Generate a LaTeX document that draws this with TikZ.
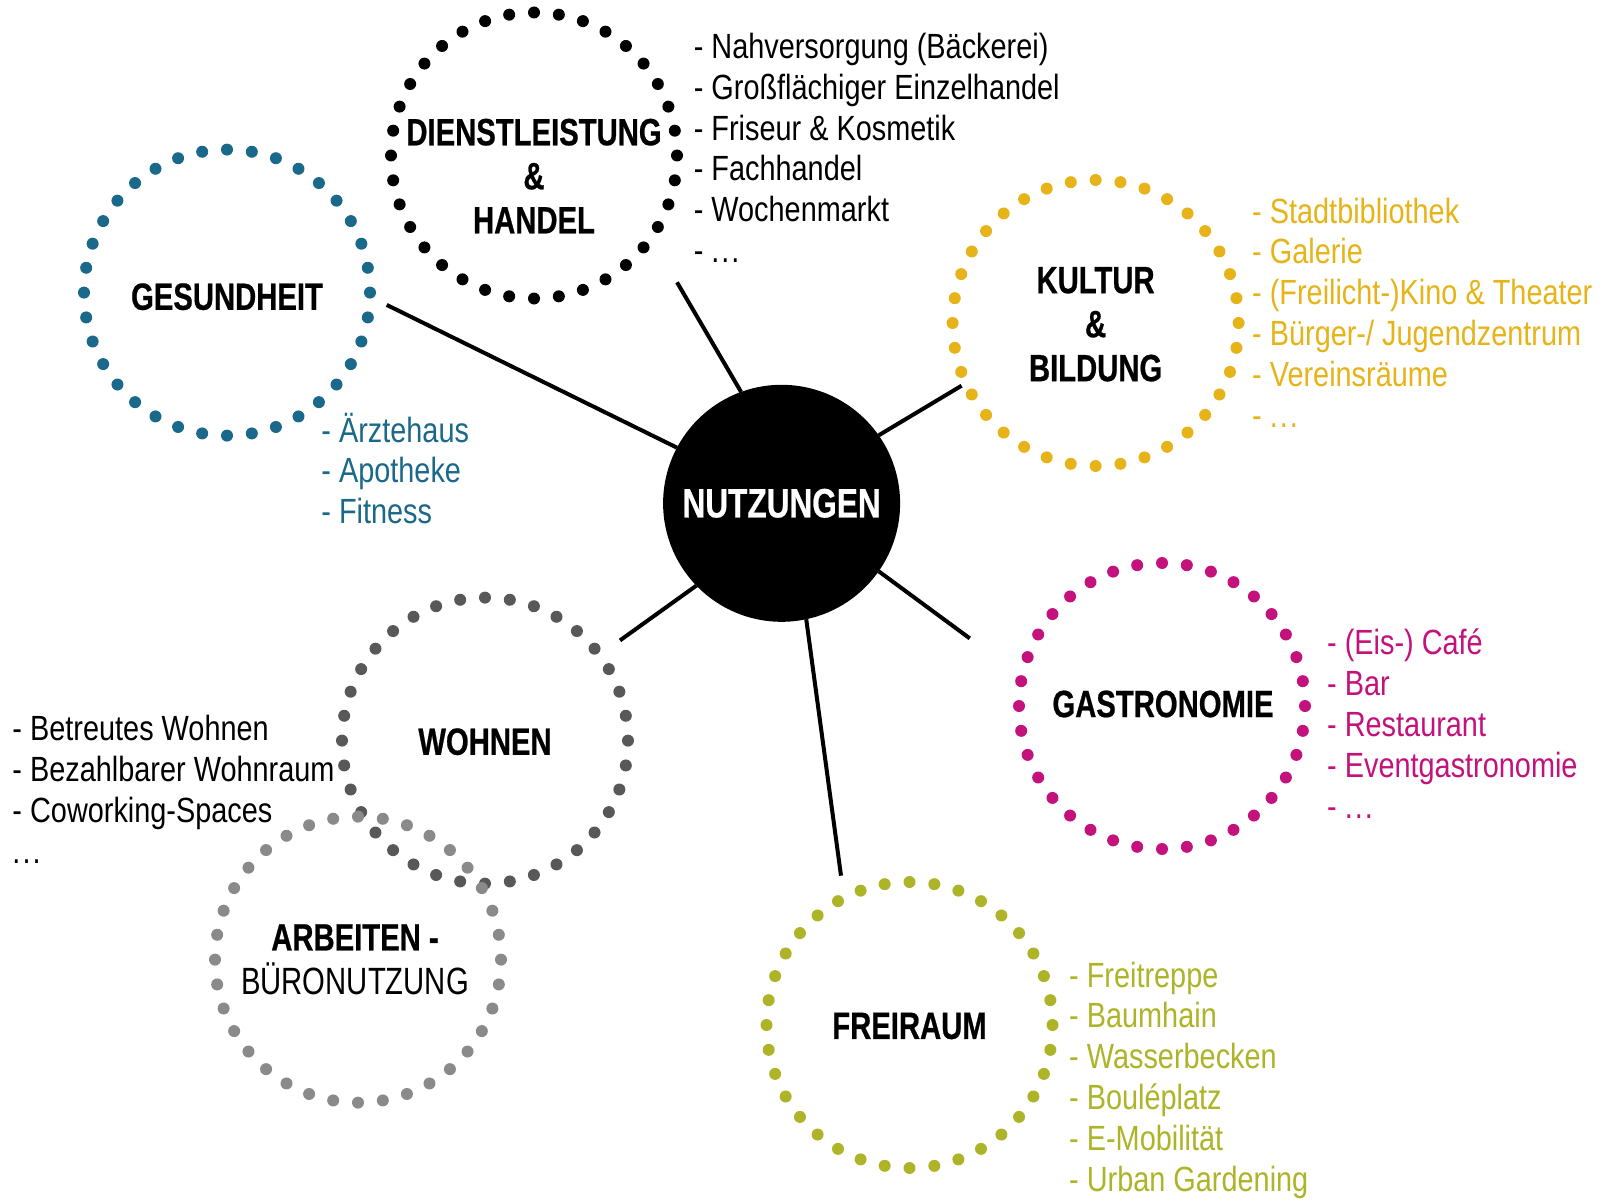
\documentclass[tikz,border=0pt]{standalone}
\usepackage{fontspec}
\newfontfamily\listfont{Liberation Sans}[FakeStretch=0.825]
\newfontfamily\titlefont{Liberation Sans}[FakeStretch=0.77, BoldFeatures={FakeBold=0.6}]
\definecolor{cteal}{RGB}{26,104,138}
\definecolor{cgold}{RGB}{230,180,25}
\definecolor{cmag}{RGB}{196,18,124}
\definecolor{colive}{RGB}{174,180,40}
\definecolor{cdgray}{RGB}{88,88,88}
\definecolor{clgray}{RGB}{138,138,138}
\newcommand\ringdots[2]{\foreach \a in {0,10,...,350} \fill[#2] (#1.\a) circle (6pt);}
\newcommand\dd{.\kern2pt.\kern2pt.}
\begin{document}
\begin{tikzpicture}[x=1pt,y=-1pt,
  dotring/.style={circle, minimum size=286pt, inner sep=0pt, outer sep=0pt},
  titletext/.style={font=\titlefont\bfseries\fontsize{38}{44}\selectfont, align=center, inner sep=0pt},
  item/.style={font=\listfont\fontsize{35}{41}\selectfont, anchor=base west, inner sep=0pt},
  conn/.style={line width=4pt}]
\useasboundingbox (0,0) rectangle (1604,1204);
\fill[white] (0,0) rectangle (1604,1204);

% central node
\node[circle, fill=black, minimum size=237pt, inner sep=0pt, outer sep=0pt,
      font=\titlefont\bfseries\fontsize{41}{44}\selectfont, text=white] (c) at (781.6,503.3) {NUTZUNGEN};

% dotted rings
\node[dotring] (D) at (534,155.5) {};
\node[dotring] (G) at (227,292.6) {};
\node[dotring] (K) at (1095.6,323) {};
\node[dotring] (Ga) at (1162,706) {};
\node[dotring] (F) at (909.5,1025) {};
\node[dotring] (W) at (485,740.6) {};
\node[dotring] (A) at (358,959.6) {};
\ringdots{D}{black}
\ringdots{G}{cteal}
\ringdots{K}{cgold}
\ringdots{Ga}{cmag}
\ringdots{F}{colive}
\ringdots{W}{cdgray}
\ringdots{A}{clgray}

% titles
\node[titletext] (Dt) at (534,176) {DIENSTLEISTUNG\\\&\\HANDEL};
\node[titletext] (Gt) at (227,296.7) {GESUNDHEIT};
\node[titletext] (Kt) at (1095.6,324.3) {KULTUR\\\&\\BILDUNG};
\node[titletext] (Gat) at (1163,704) {GASTRONOMIE};
\node[titletext] (Ft) at (909.5,1026) {FREIRAUM};
\node[titletext] (Wt) at (485,741.7) {WOHNEN};
\node[titletext] (At) at (355,959.6) {ARBEITEN -\\\mdseries BÜRONUTZUNG};

% connector ends
\coordinate (eD) at (677,282.3);
\coordinate (eG) at (386.7,304.9);
\coordinate (eK) at (961.6,385.7);
\coordinate (eGa) at (969.8,638.4);
\coordinate (eF) at (841,875.7);
\coordinate (eW) at (620,640.4);
\draw[conn] (c.110.9) -- (eD);
\draw[conn] (c.152.6) -- (eG);
\draw[conn] (c.35.5) -- (eK);
\draw[conn] (c.-35.9) -- (eGa);
\draw[conn] (c.-78.7) -- (eF);
\draw[conn] (c.-136.1) -- (eW);

% lists
\foreach \t [count=\i] in {{- Nahversorgung (Bäckerei)},{- Großflächiger Einzelhandel},{- Friseur \& Kosmetik},{- Fachhandel},{- Wochenmarkt},{- \dd}}
  \node[item, text=black] (dl\i) at ({693.6},{58.3+(\i-1)*40.9}) {\t};
\foreach \t [count=\i] in {{- Ärztehaus},{- Apotheke},{- Fitness}}
  \node[item, text=cteal] (gl\i) at ({321.2},{442+(\i-1)*40.9}) {\t};
\foreach \t [count=\i] in {{- Stadtbibliothek},{- Galerie},{- (Freilicht-)Kino \& Theater},{- Bürger-/ Jugendzentrum},{- Vereinsräume},{- \dd}}
  \node[item, text=cgold] (kl\i) at ({1252},{223+(\i-1)*40.9}) {\t};
\foreach \t [count=\i] in {{- (Eis-) Café},{- Bar},{- Restaurant},{- Eventgastronomie},{- \dd}}
  \node[item, text=cmag] (gal\i) at ({1327},{654.7+(\i-1)*40.9}) {\t};
\foreach \t [count=\i] in {{- Freitreppe},{- Baumhain},{- Wasserbecken},{- Bouléplatz},{- E-Mobilität},{- Urban Gardening}}
  \node[item, text=colive] (fl\i) at ({1069},{987+(\i-1)*40.9}) {\t};
\foreach \t [count=\i] in {{- Betreutes Wohnen},{- Bezahlbarer Wohnraum},{- Coworking-Spaces},{\dd}}
  \node[item, text=black] (wl\i) at ({12.3},{740.6+(\i-1)*40.9}) {\t};
\end{tikzpicture}
\end{document}
